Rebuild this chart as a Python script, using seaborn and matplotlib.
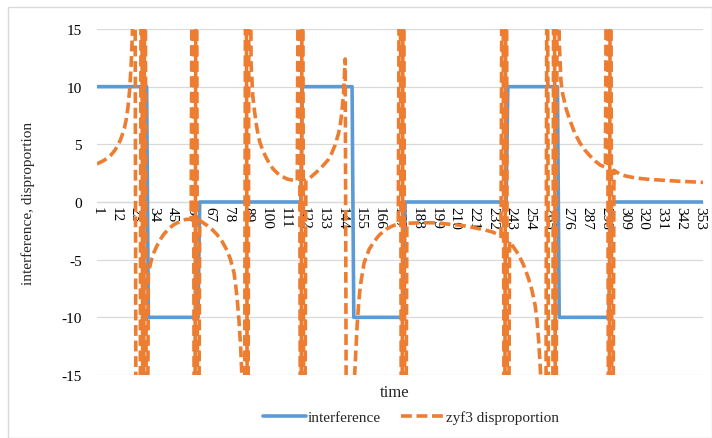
import numpy as np
import pandas as pd
import matplotlib
matplotlib.use("Agg")
import matplotlib.pyplot as plt
import seaborn as sns
from matplotlib.patches import Rectangle
from matplotlib.lines import Line2D

# ---------------- data ----------------
interference_x = [1, 30, 31, 60, 61, 120, 121, 150, 151, 180, 181, 240,
                  241, 270, 271, 300, 301, 355]
interference_y = [10, 10, -10, -10, 0, 0, 10, 10, -10, -10, 0, 0,
                  10, 10, -10, -10, 0, 0]

disp_x = [1, 3, 5, 7, 9, 11, 13, 15, 17, 18, 19, 20, 21, 22, 23, 24, 26, 27, 28, 29, 30,
          31, 32, 33, 34, 36, 38, 40, 43, 46, 50, 53, 56, 57, 58, 59, 60,
          61, 63, 65, 68, 71, 74, 77, 79, 81, 82, 83, 84, 85, 86, 87, 88, 89, 90,
          91, 92, 93, 94, 95, 96, 98, 100, 102, 104, 106, 108, 110, 112, 115, 118,
          119, 120, 121, 122,
          123, 125, 127, 130, 133, 136, 138, 140, 142, 143, 144, 145, 146, 147,
          149, 150, 151, 152, 153, 154, 155, 157, 160, 163, 166, 170, 174, 177,
          178, 179, 180, 181,
          182, 190, 197, 205, 212, 217, 222, 227, 232, 235, 237,
          238, 239, 240, 241,
          242, 244, 247, 250, 253, 255, 257, 258, 259, 260, 261, 262, 263,
          264, 265, 267, 268, 269, 270,
          271, 272, 273, 275, 277, 280, 283, 286, 289, 292, 295, 298,
          299, 300, 301, 302,
          303, 306, 310, 315, 322, 330, 341, 348, 355]
disp_y = [3.3, 3.45, 3.6, 3.8, 4.05, 4.4, 4.85, 5.5, 6.4, 7.1, 8.1, 9.6, 12.0, 16.0, 40, -40, -40, 40, -40, 40, -40,
          -6.3, -5.5, -4.9, -4.45, -3.8, -3.25, -2.8, -2.3, -1.95, -1.65, -1.5, -1.5, 40, -40, 40, -40,
          -1.6, -1.8, -2.0, -2.35, -2.8, -3.4, -4.2, -5.0, -6.1, -7.2, -8.6, -10.4, -12.8, -16.5, -40, 40, -40, 40,
          12.0, 9.2, 7.9, 6.8, 5.9, 5.25, 4.4, 3.8, 3.25, 2.85, 2.55, 2.3, 2.15, 2.0, 1.9, 1.85,
          40, -40, 40, -40,
          1.9, 2.05, 2.3, 2.7, 3.15, 3.65, 4.2, 4.9, 5.9, 6.6, 7.7, 9.4, 12.4, -40,
          -40, -24, -16.5, -13.5, -10.6, -8.5, -7.1, -5.3, -4.1, -3.4, -2.85, -2.35, -2.05, -1.9,
          40, -40, 40, -40,
          -1.85, -1.8, -1.8, -1.9, -2.0, -2.1, -2.25, -2.4, -2.6, -2.8, -3.0,
          40, -40, 40, -40,
          -3.4, -3.85, -4.5, -5.4, -6.6, -7.6, -9.0, -10.2, -12.0, -14.5, -18.0, -30.0, -40,
          40, -40, -40, 40, -40, 40,
          14.0, 10.5, 9.4, 8.1, 7.2, 6.0, 5.15, 4.5, 4.0, 3.55, 3.2, 3.0,
          40, -40, 40, -40,
          2.75, 2.45, 2.25, 2.1, 1.98, 1.9, 1.8, 1.75, 1.7]

tick_positions = [1, 12, 23, 34, 45, 56, 67, 78, 89, 100, 111, 122, 133, 144, 155, 166,
                  177, 188, 199, 210, 221, 232, 243, 254, 265, 276, 287, 298, 309, 320,
                  331, 342, 353]
tick_labels = ["1", "12", "23", "34", "45", "56", "67", "78", "89", "100", "111", "122",
               "133", "144", "155", "166", "177", "188", "199", "210", "221", "232",
               "243", "254", "265", "276", "287", "298", "309", "320", "331", "342", "353"]
y_ticks = [-15, -10, -5, 0, 5, 10, 15]

BLUE = "#5B9BD5"
ORANGE = "#ED7D31"
GRID = "#D9D9D9"
DASH = (0, (3.0, 1.3))

# ---------------- figure ----------------
sns.set_theme(style="white")
plt.rcParams["font.family"] = ["Liberation Serif", "DejaVu Serif"]
plt.rcParams["font.size"] = 11

W, H = 712, 439
fig = plt.figure(figsize=(W / 100, H / 100), dpi=100)
ax = fig.add_axes([97 / W, 1 - 376 / H, 606 / W, 346 / H])

df_i = pd.DataFrame({"time": interference_x, "value": interference_y})
df_d = pd.DataFrame({"time": disp_x, "value": disp_y})

sns.lineplot(data=df_i, x="time", y="value", ax=ax, color=BLUE, lw=2.6,
             estimator=None, sort=False, zorder=3)
sns.lineplot(data=df_d, x="time", y="value", ax=ax, color=ORANGE, lw=2.6,
             estimator=None, sort=False, zorder=4)
ax.lines[1].set_linestyle(DASH)

ax.spines["bottom"].set_position(("data", 0))
for s in ["top", "right", "left"]:
    ax.spines[s].set_visible(False)
ax.spines["bottom"].set_color(GRID)
ax.spines["bottom"].set_linewidth(0.9)

ax.set_xlim(1, 355)
ax.set_ylim(-15, 15)
ax.set_yticks(y_ticks)
ax.set_yticklabels([str(v) for v in y_ticks])
ax.set_xticks(tick_positions)
ax.set_xticklabels(tick_labels)
ax.tick_params(axis="x", length=0, pad=3, labelsize=11, colors="black",
               labelrotation=270)
for t in ax.get_xticklabels():
    t.set_ha("center")
    t.set_va("top")
ax.tick_params(axis="y", length=0, pad=11, labelsize=11, colors="black")

ax.grid(axis="y", color=GRID, lw=0.9)
ax.grid(axis="x", visible=False)
ax.set_xlabel("")
ax.set_ylabel("")

fig.text(28 / W, 1 - 203 / H, "interference, disproportion", rotation=90,
         ha="center", va="center", fontsize=11)
fig.text(395 / W, 1 - 393 / H, "time", ha="center", va="center", fontsize=12)

handles = [Line2D([], [], color=BLUE, lw=2.6),
           Line2D([], [], color=ORANGE, lw=2.6, linestyle=DASH)]
leg = fig.legend(handles, ["interference", "zyf3 disproportion"], loc="center",
                 bbox_to_anchor=(411 / W, 1 - 418 / H), ncol=2, frameon=False,
                 handlelength=2.8, handletextpad=0.15, columnspacing=1.3, fontsize=11)

fig.patches.append(Rectangle((7.5 / W, 0), (W - 8) / W, 1 - 7.5 / H,
                             transform=fig.transFigure, fill=False,
                             edgecolor=GRID, lw=1.0))

fig.savefig("out.png", dpi=100, facecolor="white")
